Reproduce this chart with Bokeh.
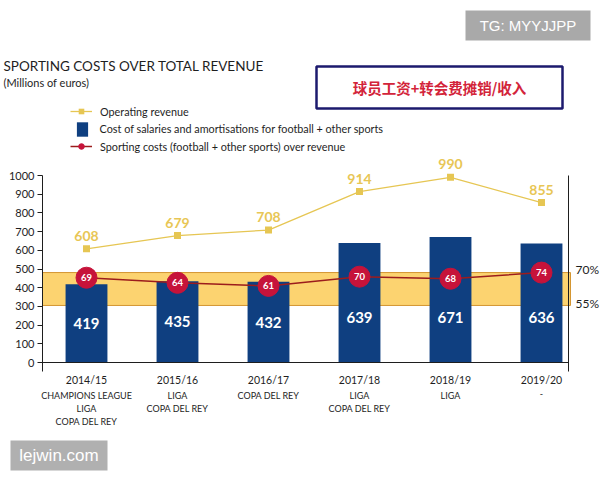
from bokeh.plotting import figure
from bokeh.models import (Range1d, LinearAxis, FixedTicker, BoxAnnotation, Label,
                          Legend, LegendItem)
from bokeh.core.properties import value
from bokeh.embed import file_html
from bokeh.resources import INLINE

# ---- data -------------------------------------------------------------
seasons = ["2014/15", "2015/16", "2016/17", "2017/18", "2018/19", "2019/20"]
titles_won = [
    "CHAMPIONS LEAGUE\nLIGA\nCOPA DEL REY",
    "LIGA\nCOPA DEL REY",
    "COPA DEL REY",
    "LIGA\nCOPA DEL REY",
    "LIGA",
    "-",
]
operating_revenue = [608, 679, 708, 914, 990, 855]      # millions of euros
sporting_costs = [419, 435, 432, 639, 671, 636]         # millions of euros
cost_ratio_pct = [69, 64, 61, 70, 68, 74]               # sporting costs / revenue, %
band_top, band_bottom = 481, 305                        # target corridor on the euro axis
band_labels = ["70%", "55%"]
y_ticks = list(range(0, 1001, 100))

# ---- styling ----------------------------------------------------------
FONT = "Lato"
NAVY = "#0f3f80"
GOLD = "#e6c653"
GOLD_TEXT = "#e8c655"
RED = "#c6133a"
RED_LINE = "#9c1c1c"
BAND_FILL = "#fcd370"
BAND_EDGE = "#d49632"
INK = "#1e1e1e"

W, H = 600, 480
# page layout: season 0 sits at x=86 px, seasons are 91 px apart,
# euro 0 sits at y=362 px and 100 M euro spans 18.7 px
X0, DX = 86.0, 91.0
Y0, DY = 362.0, 0.187


def X(px):
    return (px - X0) / DX


def Y(py):
    return (Y0 - py) / DY


# the cost ratio is read on its own scale: euro value = 76 + 5.47 * percent
PCT_OFF, PCT_K = 76.0, 5.47

xs = list(range(len(seasons)))

p = figure(width=W, height=H, output_backend="svg", toolbar_location=None,
           x_range=Range1d(X(0), X(W)), y_range=Range1d(Y(H), Y(0)),
           x_axis_location=None, y_axis_location=None, min_border=0)
p.grid.visible = False
p.outline_line_color = None
p.extra_y_ranges = {"pct": Range1d((Y(H) - PCT_OFF) / PCT_K, (Y(0) - PCT_OFF) / PCT_K)}

left_edge, right_edge, axis_floor = X(42), X(568), Y(371)

# ---- axes ---------------------------------------------------------------
yaxis = LinearAxis(ticker=FixedTicker(ticks=y_ticks), bounds=(axis_floor, 1000),
                   fixed_location=left_edge)
yaxis.major_tick_in = 0
yaxis.major_tick_out = 5
yaxis.minor_tick_in = 0
yaxis.minor_tick_out = 0
yaxis.axis_line_color = INK
yaxis.major_tick_line_color = INK
yaxis.major_label_text_font = FONT
yaxis.major_label_text_font_size = "11px"
yaxis.major_label_text_color = INK
yaxis.major_label_standoff = 3
p.add_layout(yaxis, "left")

raxis = LinearAxis(ticker=FixedTicker(ticks=[]), bounds=(axis_floor, 1000),
                   fixed_location=right_edge)
raxis.major_tick_in = 0
raxis.major_tick_out = 0
raxis.minor_tick_in = 0
raxis.minor_tick_out = 0
raxis.major_label_text_font_size = "0px"
raxis.axis_line_color = INK
p.add_layout(raxis, "right")

xaxis = LinearAxis(ticker=FixedTicker(ticks=xs), fixed_location=0,
                   bounds=(left_edge, right_edge),
                   major_label_overrides={i: s for i, s in enumerate(seasons)})
xaxis.axis_line_color = INK
xaxis.major_tick_line_color = None
xaxis.minor_tick_line_color = None
xaxis.major_label_standoff = 5
xaxis.major_label_text_font = FONT
xaxis.major_label_text_font_size = "10.5px"
xaxis.major_label_text_color = INK
p.add_layout(xaxis, "below")

# ---- 55%-70% corridor ---------------------------------------------------
p.add_layout(BoxAnnotation(bottom=band_bottom, top=band_top, left=left_edge,
                           right=X(570), fill_color=BAND_FILL, fill_alpha=1,
                           line_color=BAND_EDGE, line_alpha=1, line_width=1,
                           level="underlay"))

# ---- bars ---------------------------------------------------------------
bars = p.vbar(x=xs, top=sporting_costs, width=0.46, fill_color=NAVY, line_color=None)
bar_label_y = [min(v, band_top) / 2 for v in sporting_costs]
p.text(x=xs, y=bar_label_y, text=[str(v) for v in sporting_costs],
       text_color="white", text_font=value(FONT), text_font_style="bold",
       text_font_size="15px", text_align="center", text_baseline="middle")

# ---- operating revenue --------------------------------------------------
rev_line = p.line(xs, operating_revenue, line_color=GOLD, line_width=1.3)
rev_pts = p.scatter(xs, operating_revenue, marker="square", size=7,
                    fill_color=GOLD, line_color=None)
p.text(x=xs, y=operating_revenue, text=[str(v) for v in operating_revenue],
       y_offset=-13, text_color=GOLD_TEXT, text_font=value(FONT), text_font_style="bold",
       text_font_size="14px", text_align="center", text_baseline="middle")

# ---- sporting costs over revenue ---------------------------------------
ratio_line = p.line(xs, cost_ratio_pct, y_range_name="pct", line_color=RED_LINE,
                    line_width=1.5)
p.scatter(xs, cost_ratio_pct, y_range_name="pct", marker="circle", size=21,
          fill_color=RED, line_color=RED)
ratio_key = p.scatter(xs, cost_ratio_pct, y_range_name="pct", marker="circle", size=7,
                      fill_color=RED, line_color=RED, visible=False)
p.text(x=xs, y=cost_ratio_pct, y_range_name="pct", text=[str(v) for v in cost_ratio_pct],
       text_color="white", text_font=value(FONT), text_font_style="bold",
       text_font_size="9.5px", text_align="center", text_baseline="middle")


def screen_label(px, py, text, **kw):
    style = dict(text_font=FONT, text_color=INK, text_baseline="middle")
    style.update(kw)
    p.add_layout(Label(x=px, y=H - py, x_units="screen", y_units="screen",
                       text=text, **style))


def screen_box(l, t, r, b, **kw):
    p.add_layout(BoxAnnotation(left=l, right=r, top=H - t, bottom=H - b,
                               left_units="screen", right_units="screen",
                               top_units="screen", bottom_units="screen", **kw))


for txt, py in zip(band_labels, [269, 303]):
    screen_label(575, py, txt, text_font_size="12px")

# ---- season titles under the axis -------------------------------------
for i, t in enumerate(titles_won):
    p.add_layout(Label(x=i, y=H - 389, x_units="data", y_units="screen", text=t,
                       text_font=FONT, text_font_size="9px", text_color=INK,
                       text_align="center", text_baseline="top",
                       text_line_height=1.2))

# ---- legend -------------------------------------------------------------
def add_legend(renderers, label, left, center, gw, gh, standoff):
    # legend location is the lower-left corner of its box
    lg = Legend(items=[LegendItem(label=label, renderers=renderers)],
                location=(left, H - (center + gh / 2)),
                padding=0, margin=0, spacing=0,
                glyph_width=gw, glyph_height=gh, label_height=gh,
                label_standoff=standoff, border_line_color=None,
                background_fill_alpha=0, label_text_font=FONT,
                label_text_font_size="10.8px", label_text_color=INK)
    p.add_layout(lg)


add_legend([rev_line, rev_pts], "Operating revenue", 70, 111, 22, 14, 8)
add_legend([bars], "Cost of salaries and amortisations for football + other sports",
           74.6, 128.5, 14, 18, 11)
add_legend([ratio_line, ratio_key], "Sporting costs (football + other sports) over revenue",
           70, 146, 22, 14, 8)

# ---- headings -----------------------------------------------------------
screen_label(3, 65, "SPORTING COSTS OVER TOTAL REVENUE", text_font_size="13.5px")
screen_label(3, 82, "(Millions of euros)", text_font_size="11px")

screen_box(316, 66, 562, 108, fill_color="white", fill_alpha=1,
           line_color="#1c1a6e", line_alpha=1, line_width=2.5)
screen_label(439, 87, "球员工资+转会费摊销/收入", text_font="Noto Sans CJK SC",
             text_font_style="bold", text_font_size="14.5px",
             text_color="#d3243a", text_align="center")

# ---- watermarks ---------------------------------------------------------
screen_box(465, 10, 590, 40, fill_color="#a9a9a9", fill_alpha=1, line_color=None)
screen_label(527.5, 25, "TG: MYYJJPP", text_font="Liberation Sans",
             text_font_size="15px", text_color="white", text_align="center")
screen_box(10, 440, 107, 470, fill_color="#b0b0b0", fill_alpha=1, line_color=None)
screen_label(58.5, 455, "lejwin.com", text_font="Liberation Sans",
             text_font_size="17px", text_color="white", text_align="center")

open("out.html", "w").write(file_html(p, INLINE))
